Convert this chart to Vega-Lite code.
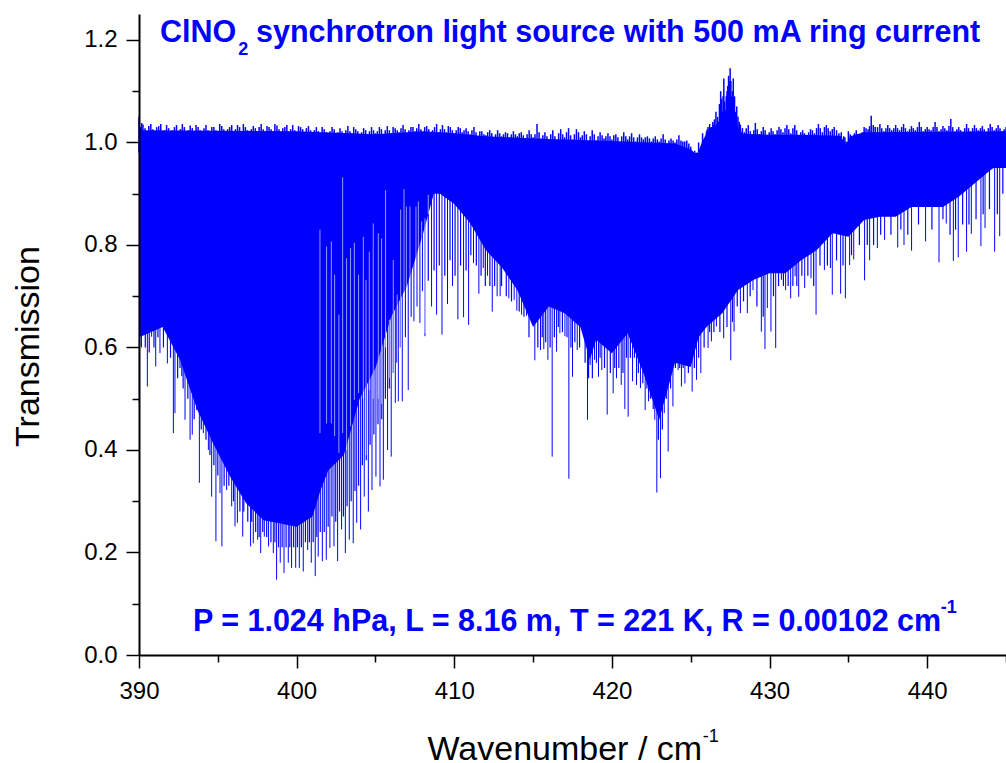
{"$schema":"https://vega.github.io/schema/vega-lite/v6.json","width":867,"height":641,"autosize":"none","padding":{"left":139,"top":14,"right":0,"bottom":108},"background":"white","view":{"stroke":null},"config":{"font":"Liberation Sans"},
"datasets":{
"base":[[390,1.024],[400,1.022],[405,1.016],[408,1.022],[410,1.018],[412,1.012],[415,1.008],[420,1.003],[424,0.998],[425,0.987],[425.4,0.975],[425.7,1.0],[426,1.018],[426.5,1.03],[427,1.05],[427.5,1.08],[427.8,1.05],[428,1.03],[428.3,1.017],[430,1.015],[432,1.015],[434.5,1.013],[434.85,0.995],[435.1,1.012],[436,1.02],[445,1.022]],
"top":[[390,1.05],[390.1,1.03],[390.25,1.035],[390.5,1.02],[390.75,1.036],[391,1.022],[391.25,1.032],[391.5,1.018],[391.75,1.034],[392,1.02],[392.25,1.03],[392.5,1.022],[392.75,1.036],[393,1.02],[393.25,1.033],[393.5,1.018],[393.75,1.03],[394,1.02],[394.25,1.034],[394.5,1.016],[394.75,1.03],[395,1.02],[395.25,1.032],[395.5,1.018],[395.75,1.03],[396,1.022],[396.25,1.034],[396.5,1.02],[396.75,1.03],[397,1.016],[397.25,1.032],[397.5,1.02],[397.75,1.036],[398,1.02],[398.25,1.03],[398.5,1.022],[398.75,1.033],[399,1.018],[399.25,1.03],[399.5,1.02],[399.75,1.034],[400,1.018],[400.25,1.03],[400.5,1.02],[400.75,1.032],[401,1.014],[401.25,1.03],[401.5,1.018],[401.75,1.026],[402,1.012],[402.25,1.03],[402.5,1.016],[402.75,1.028],[403,1.014],[403.25,1.032],[403.5,1.018],[403.75,1.026],[404,1.012],[404.25,1.028],[404.5,1.016],[404.75,1.03],[405,1.018],[405.25,1.03],[405.5,1.016],[405.75,1.032],[406,1.018],[406.25,1.028],[406.5,1.02],[406.75,1.034],[407,1.018],[407.25,1.03],[407.5,1.022],[407.75,1.036],[408,1.02],[408.25,1.032],[408.5,1.014],[408.75,1.03],[409,1.02],[409.25,1.034],[409.5,1.02],[409.75,1.03],[410,1.018],[410.25,1.03],[410.5,1.02],[410.75,1.028],[411,1.016],[411.25,1.03],[411.5,1.012],[411.75,1.022],[412,1.014],[412.25,1.024],[412.5,1.01],[412.75,1.024],[413,1.012],[413.25,1.02],[413.5,1.01],[413.75,1.022],[414,1.012],[414.25,1.02],[414.5,1.008],[414.75,1.024],[415,1.01],[415.25,1.036],[415.5,1.008],[415.75,1.02],[416,1.004],[416.25,1.024],[416.5,1.0],[416.75,1.026],[417,1.01],[417.25,1.028],[417.5,1.006],[417.75,1.026],[418,1.01],[418.25,1.022],[418.5,1.0],[418.75,1.024],[419,1.004],[419.25,1.02],[419.5,1.008],[419.75,1.018],[420,1.006],[420.25,1.016],[420.5,1.0],[420.75,1.02],[421,1.006],[421.25,1.018],[421.5,1.002],[421.75,1.016],[422,1.006],[422.25,1.012],[422.5,1.002],[422.75,1.012],[423,1.002],[423.25,1.016],[423.5,0.998],[423.75,1.008],[424,1.0],[424.25,1.014],[424.5,1.002],[424.75,1.004],[425,0.992],[425.25,0.984],[425.4,0.98],[425.5,1.0],[425.75,1.018],[426,1.022],[426.1,1.03],[426.2,1.036],[426.3,1.03],[426.4,1.04],[426.5,1.045],[426.6,1.06],[426.75,1.03],[426.9,1.1],[427,1.06],[427.1,1.125],[427.2,1.05],[427.3,1.1],[427.4,1.13],[427.5,1.145],[427.6,1.09],[427.7,1.125],[427.85,1.06],[428,1.05],[428.15,1.035],[428.4,1.02],[428.65,1.034],[428.9,1.01],[429.1,1.038],[429.35,1.016],[429.6,1.03],[429.85,1.01],[430.1,1.028],[430.35,1.016],[430.6,1.03],[430.85,1.02],[431.1,1.034],[431.35,1.018],[431.6,1.034],[431.85,1.012],[432.1,1.024],[432.35,1.012],[432.6,1.026],[432.85,1.018],[433.1,1.036],[433.35,1.02],[433.6,1.034],[433.85,1.022],[434.1,1.03],[434.4,1.018],[434.7,1.012],[434.85,1.002],[435,1.022],[435.25,1.012],[435.5,1.024],[435.75,1.008],[436,1.03],[436.25,1.026],[436.45,1.052],[436.7,1.03],[437,1.036],[437.25,1.022],[437.5,1.034],[437.75,1.024],[438,1.034],[438.25,1.024],[438.5,1.036],[438.75,1.022],[439,1.032],[439.25,1.024],[439.5,1.04],[439.75,1.022],[440,1.03],[440.25,1.024],[440.5,1.04],[440.75,1.022],[441,1.032],[441.25,1.024],[441.5,1.046],[441.75,1.022],[442,1.03],[442.25,1.018],[442.5,1.036],[442.75,1.022],[443,1.034],[443.25,1.024],[443.5,1.032],[443.75,1.02],[444,1.036],[444.25,1.024],[444.5,1.034],[444.75,1.022],[445,1.03]],
"top2":[[390.17,1.038],[390.38,1.028],[390.62,1.032],[390.88,1.026],[391.12,1.03],[391.38,1.036],[391.62,1.024],[391.88,1.028],[392.12,1.024],[392.38,1.034],[392.62,1.026],[392.88,1.03],[393.12,1.024],[393.38,1.028],[393.62,1.034],[393.88,1.024],[394.12,1.028],[394.38,1.024],[394.62,1.03],[394.88,1.024],[395.12,1.036],[395.38,1.026],[395.62,1.026],[395.88,1.034],[396.12,1.026],[396.38,1.03],[396.62,1.036],[396.88,1.024],[397.12,1.026],[397.38,1.028],[397.62,1.03],[397.88,1.026],[398.12,1.032],[398.38,1.026],[398.62,1.036],[398.88,1.026],[399.12,1.028],[399.38,1.034],[399.62,1.026],[399.88,1.024],[400.12,1.032],[400.38,1.026],[400.62,1.028],[400.88,1.024],[401.12,1.024],[401.38,1.022],[401.62,1.03],[401.88,1.02],[402.12,1.022],[402.38,1.026],[402.62,1.02],[402.88,1.022],[403.12,1.024],[403.38,1.022],[403.62,1.03],[403.88,1.022],[404.12,1.02],[404.38,1.024],[404.62,1.022],[404.88,1.024],[405.12,1.022],[405.38,1.026],[405.62,1.024],[405.88,1.024],[406.12,1.03],[406.38,1.024],[406.62,1.028],[406.88,1.026],[407.12,1.024],[407.38,1.03],[407.62,1.028],[407.88,1.026],[408.12,1.03],[408.38,1.026],[408.62,1.024],[408.88,1.036],[409.12,1.026],[409.38,1.026],[409.62,1.032],[409.88,1.024],[410.12,1.024],[410.38,1.028],[410.62,1.024],[410.88,1.022],[411.12,1.024],[411.38,1.02],[411.62,1.022],[411.88,1.016],[412.12,1.02],[412.38,1.018],[412.62,1.016],[412.88,1.018],[413.12,1.016],[413.38,1.018],[413.62,1.016],[413.88,1.016],[414.12,1.018],[414.38,1.014],[414.62,1.016],[414.88,1.016],[415.12,1.016],[415.38,1.02],[415.62,1.014],[415.88,1.012],[416.12,1.016],[416.38,1.012],[416.62,1.018],[416.88,1.016],[417.12,1.02],[417.38,1.014],[417.62,1.016],[417.88,1.02],[418.12,1.014],[418.38,1.016],[418.62,1.012],[418.88,1.016],[419.12,1.012],[419.38,1.014],[419.62,1.012],[419.88,1.012],[420.12,1.014],[420.38,1.01],[420.62,1.012],[420.88,1.012],[421.12,1.012],[421.38,1.01],[421.62,1.01],[421.88,1.01],[422.12,1.01],[422.38,1.008],[422.62,1.008],[422.88,1.006],[423.12,1.008],[423.38,1.006],[423.62,1.004],[423.88,1.004],[424.12,1.006],[424.38,1.004],[424.62,1.002],[424.88,0.998],[426.05,1.026],[426.25,1.028],[426.45,1.034],[426.7,1.05],[426.82,1.075],[426.95,1.085],[427.05,1.09],[427.15,1.08],[427.25,1.09],[427.35,1.11],[427.45,1.12],[427.55,1.12],[427.65,1.1],[427.78,1.09],[427.92,1.07],[428.08,1.04],[428.28,1.028],[428.52,1.028],[428.78,1.022],[429,1.024],[429.22,1.026],[429.48,1.022],[429.72,1.024],[429.98,1.02],[430.22,1.022],[430.48,1.024],[430.72,1.026],[430.98,1.028],[431.22,1.026],[431.48,1.028],[431.72,1.024],[431.98,1.02],[432.22,1.018],[432.48,1.02],[432.72,1.024],[432.98,1.028],[433.22,1.028],[433.48,1.03],[433.72,1.028],[433.98,1.026],[434.25,1.024],[434.55,1.02],[434.78,1.01],[434.92,1.0],[435.12,1.016],[435.38,1.018],[435.62,1.016],[435.88,1.02],[436.12,1.028],[436.35,1.032],[436.58,1.034],[436.85,1.03],[437.12,1.028],[437.38,1.028],[437.62,1.028],[437.88,1.028],[438.12,1.028],[438.38,1.03],[438.62,1.028],[438.88,1.026],[439.12,1.028],[439.38,1.03],[439.62,1.03],[439.88,1.026],[440.12,1.026],[440.38,1.03],[440.62,1.03],[440.88,1.026],[441.12,1.028],[441.38,1.032],[441.62,1.03],[441.88,1.026],[442.12,1.024],[442.38,1.028],[442.62,1.028],[442.88,1.028],[443.12,1.028],[443.38,1.028],[443.62,1.026],[443.88,1.028],[444.12,1.03],[444.38,1.028],[444.62,1.028],[444.88,1.026]],
"body":[[390.02,0.62],[391.5,0.64],[392.6,0.576],[393.7,0.478],[394.7,0.413],[395.8,0.347],[396.8,0.296],[397.9,0.263],[398.9,0.257],[400,0.25],[401,0.27],[401.5,0.32],[402,0.36],[403,0.39],[404,0.5],[405,0.56],[406,0.66],[407,0.72],[408,0.82],[408.7,0.9],[409.1,0.9],[410,0.88],[411,0.843],[412,0.79],[413,0.757],[414,0.712],[415,0.64],[416,0.68],[417,0.667],[418,0.64],[418.6,0.576],[419,0.615],[420,0.589],[421,0.628],[422,0.55],[423,0.459],[424,0.57],[425,0.562],[425.5,0.62],[426,0.64],[427,0.667],[428,0.712],[429,0.732],[430,0.745],[431,0.745],[432,0.77],[433,0.79],[434,0.823],[435,0.816],[436,0.849],[437,0.855],[438,0.855],[439,0.874],[440,0.874],[441,0.874],[442,0.894],[443,0.92],[444,0.946],[445,0.966]],
"spikes":[[390.02,0.491],[390.28,0.628],[390.53,0.524],[390.8,0.621],[391.06,0.563],[391.33,0.589],[391.8,0.569],[392.18,0.433],[392.28,0.472],[392.71,0.544],[392.92,0.459],[393.24,0.42],[393.38,0.43],[393.66,0.478],[393.83,0.336],[394.08,0.433],[394.4,0.4],[394.61,0.309],[394.88,0.222],[395.14,0.316],[395.26,0.212],[395.56,0.322],[395.88,0.29],[396.09,0.251],[396.24,0.258],[396.58,0.231],[396.72,0.316],[397.08,0.212],[397.25,0.218],[397.53,0.225],[397.72,0.199],[397.95,0.231],[398.22,0.212],[398.52,0.199],[398.73,0.147],[398.96,0.18],[399.2,0.16],[399.47,0.18],[399.68,0.17],[399.94,0.17],[400.17,0.17],[400.42,0.163],[400.7,0.205],[400.93,0.18],[401.18,0.154],[401.37,0.192],[401.63,0.183],[401.88,0.186],[402.11,0.209],[402.37,0.212],[402.6,0.183],[402.85,0.245],[403.09,0.199],[403.34,0.225],[403.59,0.218],[403.81,0.258],[404.06,0.245],[404.29,0.309],[404.55,0.28],[404.78,0.322],[405.03,0.348],[405.29,0.329],[405.5,0.342],[405.77,0.4],[406,0.387],[406.26,0.492],[406.45,0.495],[406.7,0.495],[407.08,0.517],[407.44,0.651],[407.82,0.648],[408.14,0.622],[408.56,0.68],[408.88,0.664],[409.22,0.625],[409.57,0.685],[409.89,0.72],[410.23,0.655],[410.59,0.659],[410.91,0.644],[411.22,0.765],[411.56,0.705],[411.84,0.755],[412.11,0.74],[412.41,0.67],[412.72,0.7],[412.91,0.7],[413.15,0.755],[413.46,0.696],[413.8,0.693],[413.97,0.672],[414.27,0.664],[414.58,0.662],[414.9,0.66],[415.11,0.575],[415.47,0.595],[415.68,0.597],[415.94,0.576],[416.21,0.387],[416.49,0.592],[416.7,0.628],[417.02,0.622],[417.27,0.344],[417.5,0.543],[417.8,0.595],[418.18,0.634],[418.45,0.459],[418.62,0.566],[418.9,0.576],[419.15,0.543],[419.36,0.556],[419.7,0.469],[420.08,0.511],[420.29,0.54],[420.59,0.527],[420.82,0.48],[421.03,0.465],[421.31,0.534],[421.56,0.527],[421.81,0.521],[422.11,0.478],[422.32,0.495],[422.55,0.501],[422.72,0.459],[422.85,0.317],[423.08,0.345],[423.32,0.472],[423.57,0.397],[423.87,0.485],[424.2,0.556],[424.41,0.524],[424.63,0.53],[425.09,0.514],[425.37,0.537],[425.64,0.55],[426.1,0.599],[426.31,0.612],[426.63,0.641],[427.09,0.618],[427.54,0.575],[427.75,0.631],[428.15,0.667],[428.59,0.667],[428.95,0.712],[429.48,0.631],[429.71,0.597],[429.86,0.677],[430.09,0.631],[430.39,0.599],[430.75,0.732],[431.02,0.712],[431.34,0.696],[431.62,0.739],[431.85,0.699],[432.23,0.716],[432.63,0.735],[432.95,0.664],[433.48,0.751],[433.86,0.755],[433.98,0.703],[434.51,0.705],[434.81,0.696],[435.08,0.761],[435.34,0.772],[436.03,0.731],[436.35,0.77],[436.84,0.794],[437.3,0.81],[438.13,0.795],[438.53,0.8],[439.01,0.789],[439.9,0.807],[440.75,0.766],[441.21,0.842],[441.66,0.769],[441.97,0.776],[442.5,0.787],[442.8,0.822],[443.41,0.798],[443.67,0.833],[444.28,0.787],[444.6,0.817]],
"mid":[[390.15,0.6],[390.4,0.6],[390.65,0.59],[390.95,0.6],[391.2,0.62],[391.55,0.6],[392,0.58],[392.45,0.54],[392.6,0.56],[392.8,0.52],[393.1,0.5],[393.5,0.46],[393.95,0.44],[394.25,0.42],[394.5,0.39],[394.75,0.37],[395,0.35],[395.4,0.33],[395.7,0.33],[396,0.3],[396.4,0.28],[396.65,0.28],[396.9,0.26],[397.15,0.26],[397.4,0.24],[397.62,0.23],[397.85,0.24],[398.1,0.23],[398.37,0.22],[398.62,0.22],[398.85,0.21],[399.08,0.21],[399.33,0.21],[399.57,0.21],[399.81,0.21],[400.05,0.21],[400.3,0.21],[400.56,0.22],[400.81,0.22],[401.05,0.22],[401.28,0.23],[401.5,0.24],[401.75,0.24],[402,0.25],[402.24,0.27],[402.48,0.26],[402.72,0.28],[402.97,0.27],[403.2,0.29],[403.46,0.3],[403.7,0.32],[403.93,0.33],[404.17,0.37],[404.42,0.38],[404.66,0.41],[404.9,0.43],[405.16,0.45],[405.4,0.46],[405.63,0.5],[405.88,0.52],[406.13,0.55],[406.35,0.57],[406.58,0.6],[406.9,0.62],[407.26,0.66],[407.63,0.68],[407.98,0.71],[408.35,0.73],[408.72,0.75],[409.05,0.76],[409.4,0.74],[409.73,0.77],[410.05,0.74],[410.4,0.76],[410.75,0.75],[411.05,0.78],[411.4,0.76],[411.7,0.74],[411.97,0.72],[412.26,0.72],[412.56,0.72],[413,0.72],[413.3,0.7],[413.63,0.69],[414.12,0.67],[414.42,0.66],[414.74,0.62],[415.3,0.6],[415.58,0.62],[415.8,0.61],[416.08,0.6],[416.35,0.62],[416.6,0.64],[416.86,0.63],[417.15,0.62],[417.4,0.6],[417.65,0.61],[417.95,0.6],[418.3,0.57],[418.52,0.54],[418.76,0.54],[419.02,0.57],[419.25,0.58],[419.53,0.56],[419.9,0.55],[420.18,0.56],[420.44,0.56],[420.7,0.55],[420.93,0.58],[421.17,0.58],[421.43,0.58],[421.68,0.55],[421.96,0.53],[422.22,0.52],[422.44,0.5],[422.62,0.48],[422.95,0.42],[423.2,0.44],[423.45,0.5],[423.72,0.52],[424.03,0.56],[424.3,0.56],[424.52,0.56],[424.85,0.55],[425.23,0.56],[425.5,0.58],[425.85,0.6],[426.2,0.63],[426.47,0.63],[426.85,0.63],[427.3,0.64],[427.65,0.65],[427.95,0.68],[428.35,0.69],[428.77,0.7],[429.2,0.68],[429.6,0.66],[430.25,0.7],[430.57,0.72],[430.88,0.72],[431.18,0.72],[431.48,0.72],[431.73,0.72],[432.05,0.74],[432.43,0.74],[432.8,0.72],[433.2,0.76],[433.67,0.76],[434.25,0.77],[434.66,0.76],[435.2,0.78],[435.7,0.8],[436.2,0.8],[436.6,0.8],[437.05,0.82],[437.7,0.82],[438.33,0.83],[438.77,0.82],[439.45,0.84],[440.3,0.83],[441,0.85],[441.45,0.82],[441.8,0.83],[442.25,0.84],[442.65,0.84],[443.1,0.85],[443.55,0.86],[443.95,0.87],[444.45,0.86],[444.8,0.9]],
"gaps":[[401.48,0.433,0.83],[401.9,0.452,0.797],[402.2,0.452,0.807],[402.41,0.427,0.742],[402.68,0.394,0.664],[402.92,0.433,0.932],[403.17,0.4,0.774],[403.42,0.446,0.794],[403.66,0.498,0.804],[403.93,0.511,0.742],[404.23,0.5,0.816],[404.4,0.39,0.732],[404.61,0.517,0.787],[404.86,0.5,0.842],[405.18,0.5,0.823],[405.39,0.49,0.813],[405.64,0.6,0.907],[405.88,0.54,0.654],[406.13,0.52,0.771],[406.38,0.5,0.703],[406.6,0.52,0.869],[406.81,0.575,0.909],[406.96,0.6,0.875],[407.19,0.6,0.875],[407.57,0.654,0.875],[407.72,0.726,0.885],[407.93,0.647,0.846],[408.14,0.628,0.852],[408.35,0.86,0.898]]
},
"data":{"name":"top"},
"encoding":{
"x":{"field":"wn","type":"quantitative","scale":{"domain":[390,445],"nice":false,"zero":false},"axis":null},
"y":{"field":"t","type":"quantitative","scale":{"domain":[0,1.2507],"nice":false,"zero":false},"axis":null}
},
"resolve":{"axis":{"x":"independent","y":"independent"}},
"layer":[
{"data":{"name":"base"},"transform":[{"calculate":"datum[0]","as":"wn"},{"calculate":"datum[1]","as":"t"}],"mark":{"type":"area","color":"#0000FF"},
"encoding":{"y2":{"datum":0.95},
"x":{"field":"wn","type":"quantitative","axis":{"orient":"bottom","values":[390,400,410,420,430,440],"format":"d","title":"Wavenumber / cm","titleFont":"Liberation Sans","titleFontWeight":"normal","titleFontSize":34,"titleColor":"#000","titleX":288,"titleY":104,"titleAlign":"left","titleAnchor":null,"titleBaseline":"alphabetic","labelFontSize":24,"labelColor":"#000","labelPadding":11,"tickSize":13,"tickWidth":1.5,"tickColor":"#000","domainColor":"#000","domainWidth":2,"grid":false,"zindex":1,"labelFlush":false,"labelOverlap":false}},
"y":{"field":"t","type":"quantitative","axis":{"orient":"left","values":[0,0.2,0.4,0.6,0.8,1,1.2],"format":".1f","title":"Transmission","titleFont":"Liberation Sans","titleFontWeight":"normal","titleFontSize":34,"titleColor":"#000","titleX":-101,"titleY":332,"titleAlign":"center","titleAnchor":null,"titleBaseline":"alphabetic","titleAngle":-90,"labelFontSize":24,"labelColor":"#000","labelPadding":9,"tickSize":13,"tickWidth":1.5,"tickColor":"#000","domainColor":"#000","domainWidth":2,"grid":false,"zindex":1,"labelFlush":false}}}},
{"data":{"name":"body"},"transform":[{"calculate":"datum[0]","as":"wn"},{"calculate":"datum[1]","as":"t"}],"mark":{"type":"area","color":"#0000FF"},
"encoding":{"y2":{"datum":0.98},
"x":{"field":"wn","type":"quantitative","axis":{"orient":"bottom","values":[395,405,415,425,435,445],"labels":false,"title":null,"domain":false,"grid":false,"tickSize":7,"tickWidth":1.5,"tickColor":"#000","zindex":1}},
"y":{"field":"t","type":"quantitative","axis":{"orient":"left","values":[0.1,0.3,0.5,0.7,0.9,1.1],"labels":false,"title":null,"domain":false,"grid":false,"tickSize":7,"tickWidth":1.5,"tickColor":"#000","zindex":1}}}},
{"data":{"name":"top"},"transform":[{"calculate":"datum[0]","as":"wn"},{"calculate":"datum[1]","as":"t"}],"mark":{"type":"rule","color":"#0000FF","strokeWidth":1.5},"encoding":{"y2":{"datum":0.98}}},
{"data":{"name":"top2"},"transform":[{"calculate":"datum[0]","as":"wn"},{"calculate":"datum[1]","as":"t"}],"mark":{"type":"rule","color":"#0000FF","strokeWidth":1.5},"encoding":{"y2":{"datum":0.98}}},
{"data":{"name":"mid"},"transform":[{"calculate":"datum[0]","as":"wn"},{"calculate":"datum[1]","as":"t"}],"mark":{"type":"rule","color":"#0000FF","strokeWidth":1.2},"encoding":{"y2":{"datum":0.98}}},
{"data":{"name":"spikes"},"transform":[{"calculate":"datum[0]","as":"wn"},{"calculate":"datum[1]","as":"t"}],"mark":{"type":"rule","color":"#0000FF","strokeWidth":1},"encoding":{"y2":{"datum":0.98}}},
{"data":{"name":"gaps"},"transform":[{"calculate":"datum[0]","as":"wn"},{"calculate":"datum[1]","as":"t"},{"calculate":"datum[2]","as":"t2"}],"mark":{"type":"rule","color":"#FFFFFF","strokeWidth":1,"opacity":0.6},"encoding":{"y2":{"field":"t2"}}},
{"data":{"values":[{"wn":391.33,"t":1.196,"label":"ClNO"},{"wn":397.42,"t":1.196,"label":"synchrotron light source with 500 mA ring current"},{"wn":393.42,"t":0.047,"label":"P = 1.024 hPa, L = 8.16 m, T = 221 K, R = 0.00102 cm"}]},"mark":{"type":"text","align":"left","baseline":"alphabetic","fontWeight":"bold","fontSize":30.5,"color":"#0000FF","font":"Liberation Sans"},"encoding":{"text":{"field":"label"}}},
{"data":{"values":[{"wn":396.3,"t":1.17,"label":"2"},{"wn":440.86,"t":0.082,"label":"-1"}]},"mark":{"type":"text","align":"left","baseline":"alphabetic","fontWeight":"bold","fontSize":18,"color":"#0000FF","font":"Liberation Sans"},"encoding":{"text":{"field":"label"}}},
{"data":{"values":[{"wn":425.76,"t":-0.17,"label":"-1"}]},"mark":{"type":"text","align":"left","baseline":"alphabetic","fontSize":18,"color":"#000","font":"Liberation Sans","clip":false},"encoding":{"text":{"field":"label"}}}
]}
